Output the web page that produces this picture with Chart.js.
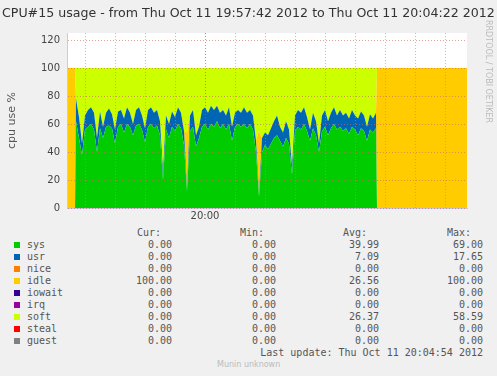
<!DOCTYPE html>
<html>
<head>
<meta charset="utf-8">
<script src="https://cdn.jsdelivr.net/npm/chart.js@4"></script>
<style>
    body { margin: 0; background: #f0f0f0; }
    #wrap { position: relative; width: 497px; height: 376px; overflow: hidden; font-family: 'DejaVu Sans', sans-serif; color: #333; }
    #chart { position: absolute; left: 0; top: 0; }
    .abs { position: absolute; white-space: nowrap; }
    #title { left: 2px; top: 5px; font-size: 12.6px; color: #333; }
    #rrd { left: 484px; top: 20px; font-size: 8px; color: #bbb; writing-mode: vertical-rl; }
    .mono { font-family: 'DejaVu Sans Mono', monospace; font-size: 10px; line-height: 12px; color: #555; }
    .swatch { position: absolute; width: 6px; height: 6px; }
    #munin { left: 217px; top: 360px; font-size: 8px; color: #bbb; }
</style>
</head>
<body>
<div id="wrap">
    <canvas id="chart" width="497" height="225"></canvas>
    <div id="title" class="abs">CPU#15 usage - from Thu Oct 11 19:57:42 2012 to Thu Oct 11 20:04:22 2012</div>
    <div id="rrd" class="abs">RRDTOOL / TOBI OETIKER</div>
    <div id="legend"></div>
    <div id="munin" class="abs">Munin unknown</div>
</div>

<script>
// sekunder efter 19:57:42
const times = [0, 8,
    9, 12, 15, 18, 21, 24, 27, 30, 33, 36,
    39, 42, 45, 48, 51, 54, 57, 60, 63, 66,
    69, 72, 75, 78, 81, 84, 87, 90, 93, 96,
    99, 102, 105, 108, 111, 114, 117, 120, 123, 126,
    129, 132, 135, 138, 141, 144, 147, 150, 153, 156,
    159, 162, 165, 168, 171, 174, 177, 180, 183, 186,
    189, 192, 195, 198, 201, 204, 207, 210, 213, 216,
    219, 222, 225, 228, 231, 234, 237, 240, 243, 246,
    249, 252, 255, 258, 261, 264, 267, 270, 273, 276,
    279, 282, 285, 288, 291, 294, 297, 300, 303, 306,
    309,
    310, 400];

const sysValues = [0, 0,
    62, 50, 38, 56, 58, 60, 56, 40, 57, 50,
    58, 59, 57, 46, 58, 60, 54, 60, 58, 52,
    59, 60, 56, 47, 58, 60, 57, 59, 52, 20,
    56, 50, 58, 55, 60, 57, 45, 12, 55, 58,
    44, 50, 58, 60, 56, 60, 58, 62, 57, 60,
    56, 60, 48, 58, 60, 58, 60, 57, 60, 56,
    40, 8, 40, 45, 42, 46, 50, 52, 48, 44,
    50, 46, 24, 55, 58, 56, 60, 55, 48, 57,
    52, 40, 55, 58, 52, 57, 60, 56, 58, 55,
    57, 53, 58, 56, 52, 57, 55, 48, 56, 54,
    57,
    0, 0];

const usrValues = [0, 0,
    16, 15, 8, 10, 12, 12, 12, 10, 12, 8,
    10, 12, 10, 10, 11, 10, 10, 12, 10, 8,
    11, 12, 10, 10, 12, 12, 11, 11, 10, 6,
    10, 10, 11, 10, 12, 11, 10, 2, 11, 12,
    8, 8, 12, 12, 12, 13, 12, 11, 11, 10,
    10, 12, 10, 10, 10, 10, 12, 11, 10, 10,
    8, 2, 10, 9, 10, 11, 12, 14, 10, 10,
    12, 10, 6, 11, 12, 12, 12, 10, 8, 11,
    10, 6, 11, 12, 10, 11, 12, 10, 12, 11,
    11, 11, 12, 10, 12, 12, 11, 10, 11, 10,
    11,
    0, 0];

const idleValues = [100, 100,
    0, 0, 0, 0, 0, 0, 0, 0, 0, 0,
    0, 0, 0, 0, 0, 0, 0, 0, 0, 0,
    0, 0, 0, 0, 0, 0, 0, 0, 0, 0,
    0, 0, 0, 0, 0, 0, 0, 40, 0, 0,
    0, 0, 0, 0, 0, 0, 0, 0, 0, 0,
    0, 0, 0, 0, 0, 0, 0, 0, 0, 0,
    0, 45, 0, 0, 0, 0, 0, 0, 0, 0,
    0, 0, 0, 0, 0, 0, 0, 0, 0, 0,
    0, 0, 0, 0, 0, 0, 0, 0, 0, 0,
    0, 0, 0, 0, 0, 0, 0, 0, 0, 0,
    0,
    100, 100];

const softValues = [0, 0,
    22, 35, 54, 34, 30, 28, 32, 50, 31, 42,
    32, 29, 33, 44, 31, 30, 36, 28, 32, 40,
    30, 28, 34, 43, 30, 28, 32, 30, 38, 74,
    34, 40, 31, 35, 28, 32, 45, 46, 34, 30,
    48, 42, 30, 28, 32, 27, 30, 27, 32, 30,
    34, 28, 42, 32, 30, 32, 28, 32, 30, 34,
    52, 45, 50, 46, 48, 43, 38, 34, 42, 46,
    38, 44, 70, 34, 30, 32, 28, 35, 44, 32,
    38, 54, 34, 30, 38, 32, 28, 34, 30, 34,
    32, 36, 30, 34, 36, 31, 34, 42, 33, 36,
    32,
    0, 0];

// x-tick: varje halvminut, 19:58:00 = 18 s
const xTicks = [18, 48, 78, 108, 138, 168, 198, 228, 258, 288, 318, 348, 378];
const xTickLabels = { 138: '20:00' };
const yTicks = [0, 10, 20, 30, 40, 50, 60, 70, 80, 90, 100, 110, 120];

// legendtabell
const legendNames = ['sys', 'usr', 'nice', 'idle', 'iowait', 'irq', 'soft', 'steal', 'guest'];
const legendColors = ['#00cc00', '#0066b3', '#ff8000', '#ffcc00', '#330099', '#990099', '#ccff00', '#ff0000', '#808080'];
const curValues = ['0.00', '0.00', '0.00', '100.00', '0.00', '0.00', '0.00', '0.00', '0.00'];
const minValues = ['0.00', '0.00', '0.00', '0.00', '0.00', '0.00', '0.00', '0.00', '0.00'];
const avgValues = ['39.99', '7.09', '0.00', '26.56', '0.00', '0.00', '26.37', '0.00', '0.00'];
const maxValues = ['69.00', '17.65', '0.00', '100.00', '0.00', '0.00', '58.59', '0.00', '0.00'];
const lastUpdate = 'Last update:  Thu Oct 11 20:04:54 2012';

function serie(label, values, color, fill) {
    return {
        label: label,
        data: times.map((t, i) => ({ x: t, y: values[i] })),
        backgroundColor: color,
        borderWidth: 0,
        pointRadius: 0,
        tension: 0,
        fill: fill
    };
}

// vit bakgrund i ritytan
const plotBg = {
    id: 'plotBg',
    beforeDraw(chart) {
        const { ctx, chartArea: a } = chart;
        ctx.save();
        ctx.fillStyle = '#ffffff';
        ctx.fillRect(a.left, a.top, a.right - a.left, a.bottom - a.top);
        ctx.restore();
    }
};

new Chart(document.getElementById('chart'), {
    type: 'line',
    data: {
        datasets: [
            serie('sys', sysValues, '#00cc00', 'origin'),
            serie('usr', usrValues, '#0066b3', '-1'),
            serie('idle', idleValues, '#ffcc00', '-1'),
            serie('soft', softValues, '#ccff00', '-1')
        ]
    },
    options: {
        responsive: false,
        animation: false,
        layout: { padding: { top: 33, left: 0, right: 30, bottom: 0 } },
        plugins: { legend: { display: false }, tooltip: { enabled: false } },
        scales: {
            x: {
                type: 'linear',
                min: 0,
                max: 400,
                afterBuildTicks: scale => { scale.ticks = xTicks.map(v => ({ value: v })); },
                afterFit: scale => { scale.height = 17; },
                ticks: {
                    autoSkip: false,
                    maxRotation: 0,
                    padding: 2,
                    color: '#444',
                    font: { family: 'DejaVu Sans', size: 10 },
                    callback: v => xTickLabels[v] || ''
                },
                grid: {
                    z: 1,
                    drawTicks: false,
                    lineWidth: 1,
                    color: ctx => ctx.tick && ctx.tick.value === 138 ? 'rgba(235,70,70,0.7)' : 'rgba(150,150,150,0.6)'
                },
                border: { display: true, z: 1, color: '#c8cce0', dash: [1, 2] }
            },
            y: {
                stacked: true,
                min: 0,
                max: 125,
                afterBuildTicks: scale => { scale.ticks = yTicks.map(v => ({ value: v })); },
                afterFit: scale => { scale.width = 67; },
                ticks: {
                    padding: 7,
                    color: '#444',
                    font: { family: 'DejaVu Sans', size: 10 }
                },
                grid: {
                    z: 1,
                    drawTicks: false,
                    lineWidth: 1,
                    color: 'rgba(205,100,100,0.6)'
                },
                border: { display: true, z: 1, color: '#c8cce0', dash: [1, 2] },
                title: {
                    display: true,
                    text: 'cpu use %',
                    color: '#555',
                    font: { family: 'DejaVu Sans', size: 11 },
                    padding: { top: 6, bottom: 0 }
                }
            }
        }
    },
    plugins: [plotBg]
});

// bygg legendtabellen under diagrammet
const legend = document.getElementById('legend');
function addText(text, left, top, right) {
    const d = document.createElement('div');
    d.className = 'abs mono';
    d.textContent = text;
    d.style.top = top + 'px';
    if (right !== undefined) {
        d.style.right = (497 - right) + 'px';
    } else {
        d.style.left = left + 'px';
    }
    legend.appendChild(d);
}

addText('Cur:', 137, 227);
addText('Min:', 240, 227);
addText('Avg:', 343, 227);
addText('Max:', 447, 227);

legendNames.forEach((name, i) => {
    const top = 239 + i * 12;
    const sw = document.createElement('div');
    sw.className = 'swatch';
    sw.style.left = '14px';
    sw.style.top = (top + 3) + 'px';
    sw.style.background = legendColors[i];
    legend.appendChild(sw);
    addText(name, 27, top);
    addText(curValues[i], 0, top, 172);
    addText(minValues[i], 0, top, 276);
    addText(avgValues[i], 0, top, 379);
    addText(maxValues[i], 0, top, 483);
});
addText(lastUpdate, 0, 347, 483);
</script>
</body>
</html>
